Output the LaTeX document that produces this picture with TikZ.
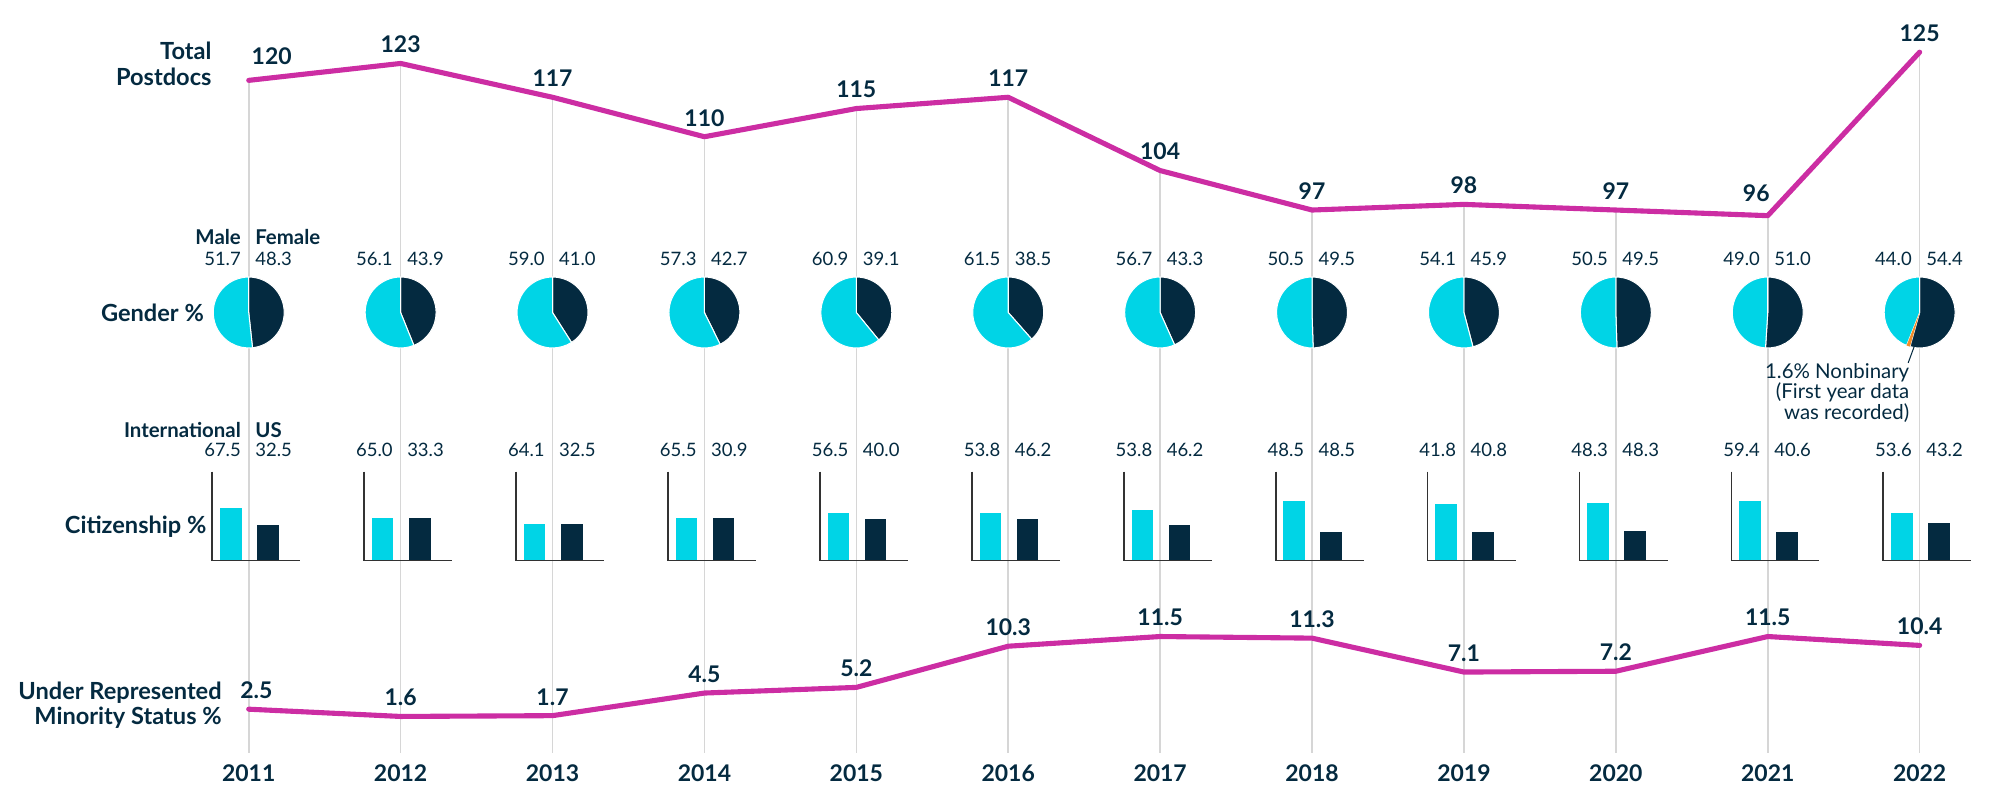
\documentclass[tikz,border=0pt]{standalone}
\usepackage{fontspec}
\setmainfont{Lato}
\usetikzlibrary{positioning}

\definecolor{navy}{RGB}{4,42,64}
\definecolor{trendpink}{RGB}{204,45,163}
\definecolor{malecyan}{RGB}{0,212,230}
\definecolor{nbor}{RGB}{242,140,40}
\definecolor{gridgray}{RGB}{214,214,214}
\definecolor{axisgray}{RGB}{50,50,50}

\tikzset{
  rowname/.style={font=\bfseries\fontsize{18.5}{20}\selectfont,text=navy,align=right,anchor=east,inner sep=0pt},
  bignum/.style={font=\bfseries\fontsize{18}{20}\selectfont,text=navy,inner sep=0pt},
  head/.style={font=\bfseries\fontsize{16}{18}\selectfont,text=navy,inner sep=0pt},
  pct/.style={font=\fontsize{14.5}{14}\selectfont,text=navy,inner sep=0pt},
  notetext/.style={font=\fontsize{16}{14}\selectfont,text=navy,inner sep=0pt,align=right},
  yearname/.style={font=\bfseries\fontsize{18}{19}\selectfont,text=navy,inner sep=0pt},
  trend/.style={trendpink,line width=4pt,line join=round,line cap=round},
  grid line/.style={gridgray,line width=1.3pt},
  bar axis/.style={axisgray,line width=1.4pt},
}

\begin{document}
\begin{tikzpicture}[x=1pt,y=1pt]
  \useasboundingbox (0,0) rectangle (1568,-628.75);
  % year/total/urm/male/female/intl/us/bar intl/bar us/label shifts
  \foreach \yr/\tot/\urm/\ma/\fe/\intl/\us/\bi/\bu/\tdx/\tdy/\udx [count=\i from 0] in {
    2011/120/2.5/51.7/48.3/67.5/32.5/40.5/27.4/18/4/6,
    2012/123/1.6/56.1/43.9/65.0/33.3/33/33/0/0/0,
    2013/117/1.7/59.0/41.0/64.1/32.5/28.2/28/0/0/0,
    2014/110/4.5/57.3/42.7/65.5/30.9/33/33/0/0/0,
    2015/115/5.2/60.9/39.1/56.5/40.0/37/32/0/0/0,
    2016/117/10.3/61.5/38.5/53.8/46.2/37/32/0/0/0,
    2017/104/11.5/56.7/43.3/53.8/46.2/39/27.4/0/0/0,
    2018/97/11.3/50.5/49.5/48.5/48.5/46.5/22.2/0/0/0,
    2019/98/7.1/54.1/45.9/41.8/40.8/44/22.2/0/0/0,
    2020/97/7.2/50.5/49.5/48.3/48.3/44.4/22.7/0/0/0,
    2021/96/11.5/49.0/51.0/59.4/40.6/46.5/22.2/-9/3/0,
    2022/125/10.4/44.0/54.4/53.6/43.2/36.5/29.2/0/0/0}
  {
    \pgfmathsetmacro\xx{195+119.09*\i}
    \pgfmathsetmacro\ty{-63-(120-\tot)*4.42}
    \pgfmathsetmacro\uy{-556+(\urm-2.5)*6.33}
    \coordinate (t\i) at (\xx,\ty);
    \coordinate (u\i) at (\xx,\uy);
    \coordinate (g\i) at (\xx,-590);
    \coordinate (p\i) at (\xx,-245);
    \draw[grid line] (t\i) -- (g\i);
    % gender pie
    \filldraw[fill=navy,draw=white,line width=0.8pt] (p\i) -- ++(90:27.8) arc (90:90-\fe*3.6:27.8) -- cycle;
    \filldraw[fill=malecyan,draw=white,line width=0.8pt] (p\i) -- ++(90:27.8) arc (90:90+\ma*3.6:27.8) -- cycle;
    \node[pct,anchor=east] (m\i) at (\xx-6,-203) {\ma};
    \node[pct,anchor=west] (f\i) at (\xx+5,-203) {\fe};
    % citizenship bars
    \fill[malecyan] (\xx-22.4,-439) rectangle (\xx-5.6,-439+\bi);
    \fill[navy] (\xx+6.6,-439) rectangle (\xx+23.5,-439+\bu);
    \draw[bar axis] (\xx-28.5,-369.8) -- (\xx-28.5,-439.5) -- (\xx+40.5,-439.5);
    \node[pct,anchor=east] (ci\i) at (\xx-6,-353) {\intl};
    \node[pct,anchor=west] (cu\i) at (\xx+5,-353) {\us};
    % values on the two lines
    \node[bignum,above=8pt] (tv\i) at ([shift={(\tdx,\tdy)}]t\i) {\tot};
    \node[bignum,above=8pt] (uv\i) at ([xshift=\udx]u\i) {\urm};
    \node[yearname] (y\i) at (\xx,-606) {\yr};
  }
  \fill[nbor] (p11) -- ++(248.4:27.8) arc (248.4:254.16:27.8) -- cycle;
  \draw[trend] (t0) \foreach \i in {1,...,11} {-- (t\i)};
  \draw[trend] (u0) \foreach \i in {1,...,11} {-- (u\i)};

  \node[rowname] (total) at (166,-50) {Total\\Postdocs};
  \node[rowname] (gender) at (160,-245.6) {Gender \%};
  \node[rowname] (citizen) at (162,-413) {Citizenship \%};
  \node[rowname] (urm) at (174,-553) {Under Represented\\Minority Status \%};
  \node[head,anchor=east] (male) at (189,-186) {Male};
  \node[head,anchor=west] (female) at (200,-186) {Female};
  \node[head,anchor=east] (intl) at (189,-337) {International};
  \node[head,anchor=west] (us) at (200,-337) {US};

  \coordinate (nbtip) at (1500.6,-272);
  \node[notetext,anchor=north east] (nbnote) at (1497,-284.5) {1.6\% Nonbinary\\(First year data\\was recorded)};
  \draw[navy,line width=0.8pt] (nbtip) -- ([xshift=-1pt]nbnote.north east);
\end{tikzpicture}
\end{document}
